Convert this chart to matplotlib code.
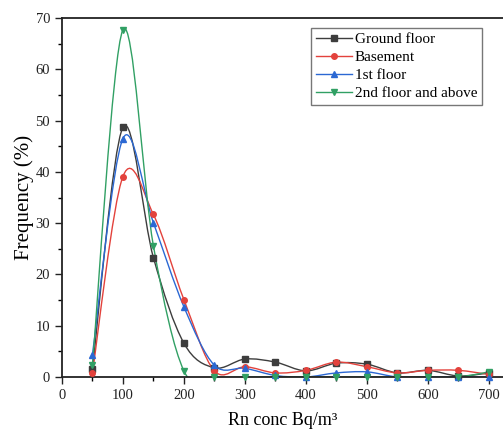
import matplotlib
matplotlib.use("Agg")
import matplotlib.pyplot as plt
import matplotlib.ticker as ticker
import numpy as np
from matplotlib.path import Path
from matplotlib.patches import PathPatch
from matplotlib.lines import Line2D

plt.rcParams['font.family'] = ['Liberation Serif', 'DejaVu Serif']

conc = [50, 100, 150, 200, 250, 300, 350, 400, 450, 500, 550, 600, 650, 700]
ground = [1.5, 48.7, 23.3, 6.6, 1.8, 3.5, 2.9, 1.2, 2.7, 2.5, 0.8, 1.3, 0.2, 0.8]
basement = [0.8, 39.1, 31.7, 15.1, 1.2, 2.0, 0.8, 1.3, 2.9, 2.0, 0.8, 1.3, 1.3, 0.5]
first = [4.3, 46.5, 30.1, 13.7, 2.3, 1.7, 0.3, 0.0, 0.8, 1.0, 0.0, 0.0, 0.0, 0.0]
second = [2.3, 67.7, 25.6, 1.2, 0.0, 0.0, 0.0, 0.0, 0.0, 0.0, 0.0, 0.0, 0.0, 1.0]

series = [
    ("Ground floor", ground, '#3d3d3d', 's'),
    ("Basement", basement, '#e3423c', 'o'),
    ("1st floor", first, '#2b68d3', '^'),
    ("2nd floor and above", second, '#31a064', 'v'),
]


def smooth_path(x, y):
    # Catmull-Rom curve through the points, drawn as cubic Bezier segments
    x = np.asarray(x, float)
    y = np.asarray(y, float)
    verts = [(x[0], y[0])]
    codes = [Path.MOVETO]
    n = len(x)
    for i in range(n - 1):
        i0 = max(i - 1, 0)
        i3 = min(i + 2, n - 1)
        c1 = (x[i] + (x[i + 1] - x[i0]) / 6, y[i] + (y[i + 1] - y[i0]) / 6)
        c2 = (x[i + 1] - (x[i3] - x[i]) / 6, y[i + 1] - (y[i3] - y[i]) / 6)
        verts += [c1, c2, (x[i + 1], y[i + 1])]
        codes += [Path.CURVE4] * 3
    return Path(verts, codes)


fig = plt.figure(figsize=(5.03, 4.32), dpi=100)
ax = fig.add_axes([0.123, 0.1273, 0.877, 0.8307])

handles = []
for name, vals, col, mk in series:
    ax.add_patch(PathPatch(smooth_path(conc, vals), fill=False, edgecolor=col, lw=1.0))
    ax.plot(conc, vals, ls='none', marker=mk, color=col, ms=4, clip_on=False, zorder=3)
    handles.append(Line2D([], [], color=col, lw=1.0, marker=mk, ms=4, label=name))

ax.set_xlim(0, 723)
ax.set_ylim(0, 70)
ax.xaxis.set_major_locator(ticker.MultipleLocator(100))
ax.xaxis.set_minor_locator(ticker.MultipleLocator(50))
ax.yaxis.set_major_locator(ticker.MultipleLocator(10))
ax.yaxis.set_minor_locator(ticker.MultipleLocator(5))
ax.tick_params(which='major', direction='out', length=5, width=1, labelsize=10.5, colors='#222222')
ax.tick_params(which='minor', direction='out', length=3, width=1)
ax.spines['right'].set_visible(False)
for s in ['left', 'bottom', 'top']:
    ax.spines[s].set_linewidth(1.3)
    ax.spines[s].set_color('#222222')

ax.set_xlabel("Rn conc Bq/m³", fontsize=13, labelpad=7)
ax.set_ylabel("Frequency (%)", fontsize=15, labelpad=1)

leg = ax.legend(handles=handles, loc='upper right', bbox_to_anchor=(482 / 503, 1 - 28 / 432),
                bbox_transform=fig.transFigure, borderaxespad=0, fontsize=11,
                fancybox=False, framealpha=1, edgecolor='#777777', handlelength=2.35,
                labelspacing=0.28, handletextpad=0.2, borderpad=0.3)
leg.get_frame().set_linewidth(1.0)

fig.savefig("out.png", dpi=100)
